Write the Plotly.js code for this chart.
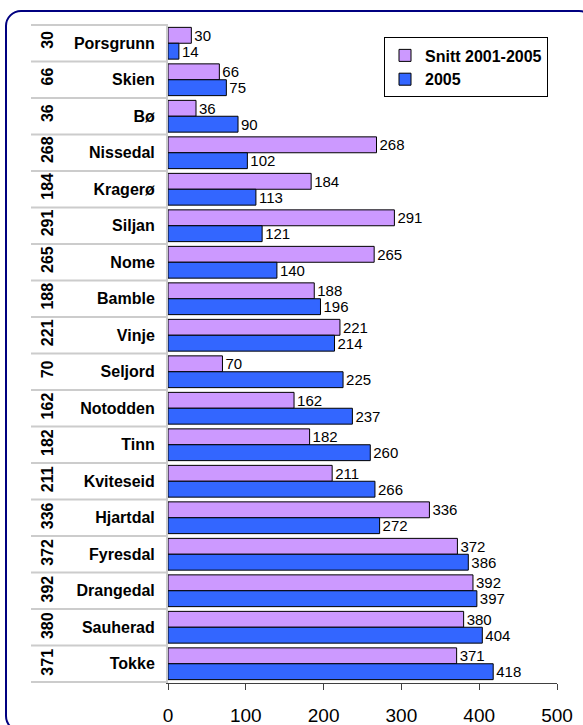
<!DOCTYPE html>
<html>
<head>
<meta charset="utf-8">
<script src="https://cdn.plot.ly/plotly-3.0.1.min.js"></script>
<style>
  html, body { margin: 0; padding: 0; background: #ffffff; overflow: hidden; }
  #chart { position: absolute; left: 0; top: 0; width: 583px; height: 725px; }
  #frame {
    position: absolute; left: 5px; top: 10px; width: 590px; height: 722px;
    border: 2px solid #000080; border-radius: 16px; pointer-events: none;
    box-sizing: border-box;
  }
</style>
</head>
<body>
<div id="chart"></div>
<div id="frame"></div>
<script>
// Municipalities, top to bottom
const kommuner = ["Porsgrunn", "Skien", "Bø", "Nissedal", "Kragerø", "Siljan", "Nome",
  "Bamble", "Vinje", "Seljord", "Notodden", "Tinn", "Kviteseid", "Hjartdal",
  "Fyresdal", "Drangedal", "Sauherad", "Tokke"];
// Average 2001-2005
const snitt = [30, 66, 36, 268, 184, 291, 265, 188, 221, 70, 162, 182, 211, 336, 372, 392, 380, 371];
// Year 2005
const aar2005 = [14, 75, 90, 102, 113, 121, 140, 196, 214, 225, 237, 260, 266, 272, 386, 397, 404, 418];
const xTicks = [0, 100, 200, 300, 400, 500];

const FONT = "Arial, 'Liberation Sans', sans-serif";
const rows = kommuner.map((k, i) => i);

const traces = [
  {
    type: "bar", orientation: "h", name: "Snitt 2001-2005",
    y: kommuner, x: snitt,
    marker: { color: "#CC99FF", line: { color: "#000000", width: 1 } },
    text: snitt.map(String), textposition: "outside", constraintext: "none",
    cliponaxis: false, textfont: { family: FONT, size: 15, color: "#000000" },
    hoverinfo: "x+y"
  },
  {
    type: "bar", orientation: "h", name: "2005",
    y: kommuner, x: aar2005,
    marker: { color: "#3366FF", line: { color: "#000000", width: 1 } },
    text: aar2005.map(String), textposition: "outside", constraintext: "none",
    cliponaxis: false, textfont: { family: FONT, size: 15, color: "#000000" },
    hoverinfo: "x+y"
  },
  // Carries the average column axis (labels only, no visible marks)
  {
    type: "scatter", mode: "none", x: snitt, y: rows, yaxis: "y2",
    showlegend: false, hoverinfo: "skip"
  }
];

// Pixel geometry of the plotting area; the table column sits left of it
const L = 168, R = 557, T = 23.5, B = 683;
const px2paper = p => p / R;   // paper spans x = 0 .. R (no left margin)

// Separator rules of the table column
const shapes = [];
for (let i = 0; i <= kommuner.length; i++) {
  shapes.push({
    type: "line", xref: "paper", yref: "y",
    x0: px2paper(31), x1: px2paper(L), y0: i - 0.5, y1: i - 0.5,
    line: { color: "#cccccc", width: 2 }
  });
}

const layout = {
  width: 583, height: 725,
  margin: { l: 0, r: 583 - R, t: T, b: 725 - B, pad: 0 },
  paper_bgcolor: "#ffffff", plot_bgcolor: "#ffffff",
  barmode: "group", bargap: 0.13, bargroupgap: 0,
  showlegend: true,
  legend: {
    x: px2paper(548), xanchor: "right", xref: "paper",
    y: (B - 37) / (B - T), yanchor: "top",
    bgcolor: "#ffffff", bordercolor: "#000000", borderwidth: 1,
    traceorder: "normal", itemwidth: 30,
    font: { family: FONT, size: 16, color: "#000000", weight: "bold" }
  },
  xaxis: {
    domain: [px2paper(L), 1],
    range: [0, 500], tickvals: xTicks, ticktext: xTicks.map(String),
    showgrid: false, zeroline: false,
    showline: true, linecolor: "#404040", linewidth: 1,
    ticks: "outside", ticklen: 6, tickcolor: "#404040", tickwidth: 1,
    ticklabelstandoff: 9,
    tickfont: { family: FONT, size: 19, color: "#000000" },
    fixedrange: true
  },
  yaxis: {
    type: "category", autorange: "reversed",
    showgrid: false, zeroline: false,
    showline: true, linecolor: "#cccccc", linewidth: 2,
    ticks: "", ticklabelstandoff: 8,
    tickfont: { family: FONT, size: 16, color: "#000000", weight: "bold" },
    fixedrange: true
  },
  // Rotated column with the 2001-2005 average for each municipality
  yaxis2: {
    overlaying: "y", anchor: "free", position: px2paper(58), side: "left",
    range: [kommuner.length - 0.5, -0.5],
    tickmode: "array", tickvals: rows, ticktext: snitt.map(String),
    tickangle: -90, ticks: "", ticklabelstandoff: 2,
    showgrid: false, zeroline: false, showline: false,
    tickfont: { family: FONT, size: 16, color: "#000000", weight: "bold" },
    fixedrange: true
  },
  shapes: shapes
};

Plotly.newPlot("chart", traces, layout, { displayModeBar: false, staticPlot: true });
</script>
</body>
</html>
